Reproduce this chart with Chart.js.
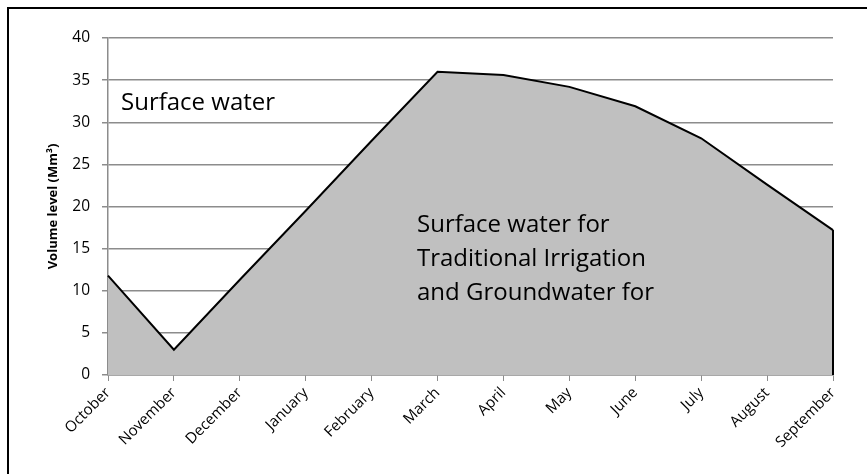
<!DOCTYPE html>
<html>
<head>
<meta charset="utf-8">
<script src="https://cdn.jsdelivr.net/npm/chart.js@4/dist/chart.umd.min.js"></script>
<style>
  html, body { margin: 0; padding: 0; background: #fff; }
  #wrap { position: relative; width: 867px; height: 474px; overflow: hidden; }
  #frame { position: absolute; left: 7px; top: 7px; width: 900px; height: 520px; border: 2px solid #000; }
  #volumeChart { position: absolute; left: 0; top: 0; }
</style>
</head>
<body>
<div id="wrap">
  <div id="frame"></div>
  <canvas id="volumeChart" width="867" height="474"></canvas>
</div>
<script>
// Monthly reservoir volume, October to September
const months = ['October', 'November', 'December', 'January', 'February', 'March',
  'April', 'May', 'June', 'July', 'August', 'September'];
const volume = [11.8, 3.0, 11.3, 19.5, 27.8, 36.0, 35.6, 34.2, 31.9, 28.1, 22.6, 17.2];
const yTicks = [0, 5, 10, 15, 20, 25, 30, 35, 40];

const topNote = ['Surface water'];
const areaNote = ['Surface water for', 'Traditional Irrigation', 'and Groundwater for'];

const font = "'Open Sans', sans-serif";

// text labels written over the plot, plus the closing edge of the area
const notesPlugin = {
  id: 'notes',
  afterDatasetsDraw(chart) {
    const ctx = chart.ctx;
    const x = chart.scales.x, y = chart.scales.y;
    const last = volume.length - 1;
    ctx.save();
    ctx.strokeStyle = '#000';
    ctx.lineWidth = 2;
    ctx.beginPath();
    ctx.moveTo(x.getPixelForValue(last), y.getPixelForValue(volume[last]));
    ctx.lineTo(x.getPixelForValue(last), y.getPixelForValue(0));
    ctx.stroke();

    ctx.fillStyle = '#000';
    ctx.font = '24px ' + font;
    ctx.textBaseline = 'alphabetic';
    ctx.textAlign = 'left';
    topNote.forEach((t, i) => ctx.fillText(t, 121, 110 + i * 34));
    areaNote.forEach((t, i) => ctx.fillText(t, 417, 232 + i * 34));
    ctx.restore();
  }
};

const ctx = document.getElementById('volumeChart').getContext('2d');
new Chart(ctx, {
  type: 'line',
  data: {
    labels: months,
    datasets: [{
      data: volume,
      borderColor: '#000',
      borderWidth: 2,
      backgroundColor: '#c0c0c0',
      fill: 'origin',
      pointRadius: 0,
      tension: 0
    }]
  },
  options: {
    responsive: false,
    animation: false,
    events: [],
    layout: { padding: { left: 10, top: 38, right: 34, bottom: 0 } },
    plugins: { legend: { display: false }, tooltip: { enabled: false } },
    scales: {
      x: {
        offset: false,
        grid: { display: true, drawOnChartArea: false, drawTicks: true, tickLength: 6, color: '#8c8c8c' },
        border: { display: true, color: '#8c8c8c', width: 1.5 },
        ticks: {
          minRotation: 45, maxRotation: 45, autoSkip: false, padding: 3,
          color: '#000', font: { family: font, size: 15 }
        },
        afterFit(scale) { scale.height = 99; }
      },
      y: {
        min: 0,
        max: 40,
        afterBuildTicks(scale) { scale.ticks = yTicks.map(v => ({ value: v })); },
        grid: { color: '#8c8c8c', lineWidth: 1.5, tickLength: 6 },
        border: { display: true, color: '#8c8c8c', width: 1.5 },
        ticks: { padding: 12, color: '#000', font: { family: font, size: 15.5 } },
        title: {
          display: true,
          text: 'Volume level (Mm³)',
          color: '#000',
          font: { family: font, size: 13, weight: 'bold' },
          padding: { top: 35, bottom: 0 }
        },
        afterFit(scale) { scale.width = 98; }
      }
    }
  },
  plugins: [notesPlugin]
});
</script>
</body>
</html>
